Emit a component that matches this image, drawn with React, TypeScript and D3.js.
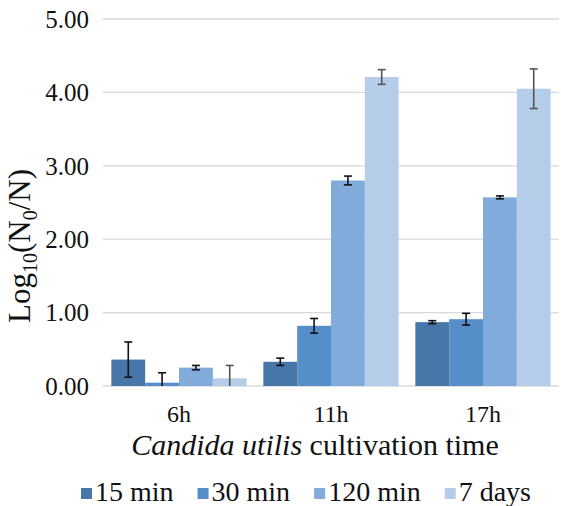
import React, { useEffect, useRef } from "react";
import * as d3 from "d3";

const categories = ["6h", "11h", "17h"];
const seriesNames = ["15 min", "30 min", "120 min", "7 days"];
const seriesColors = ["#4677A8", "#558EC8", "#80ABDB", "#B6CDE9"];
const errColors = ["#111111", "#111111", "#111111", "#555555"];
const values15 = [0.36, 0.33, 0.87];
const values30 = [0.045, 0.82, 0.91];
const values120 = [0.25, 2.8, 2.57];
const values7d = [0.105, 4.21, 4.05];
const errors15 = [0.24, 0.05, 0.02];
const errors30 = [0.135, 0.1, 0.08];
const errors120 = [0.03, 0.06, 0.02];
const errors7d = [0.175, 0.1, 0.27];
const yTicks = [0, 1, 2, 3, 4, 5];

const W = 561;
const H = 506;
const FONT = "Liberation Serif";

export default function App() {
  const ref = useRef<SVGSVGElement | null>(null);

  useEffect(() => {
    const svg = d3.select(ref.current);
    svg.selectAll("*").remove();

    const values = [values15, values30, values120, values7d];
    const errors = [errors15, errors30, errors120, errors7d];

    const left = 103;
    const right = 559;
    const top = 19;
    const bottom = 386;

    const x = d3.scaleBand<string>().domain(categories).range([left, right]).paddingInner(0.11).paddingOuter(0.055);
    const xs = d3.scaleBand<string>().domain(seriesNames).range([0, x.bandwidth()]);
    const y = d3.scaleLinear().domain([0, 5]).range([bottom, top]);

    svg.append("g")
      .selectAll("line")
      .data(yTicks)
      .join("line")
      .attr("x1", left)
      .attr("x2", right)
      .attr("y1", (d) => y(d))
      .attr("y2", (d) => y(d))
      .attr("stroke", "#d9d9d9")
      .attr("stroke-width", 1.3);

    svg.append("g")
      .selectAll("text")
      .data(yTicks)
      .join("text")
      .attr("x", 89)
      .attr("y", (d) => y(d))
      .attr("dy", "0.35em")
      .attr("text-anchor", "end")
      .style("font-family", FONT)
      .style("font-size", "25px")
      .attr("fill", "#111")
      .text((d) => d.toFixed(2));

    const defs = svg.append("defs");
    defs.append("clipPath").attr("id", "plotclip")
      .append("rect").attr("x", 0).attr("y", 0).attr("width", W).attr("height", bottom);

    seriesNames.forEach((s, si) => {
      const g = svg.append("g");
      g.selectAll("rect")
        .data(categories)
        .join("rect")
        .attr("x", (c) => (x(c) as number) + (xs(s) as number))
        .attr("width", xs.bandwidth())
        .attr("y", (c, i) => y(values[si][i]))
        .attr("height", (c, i) => bottom - y(values[si][i]))
        .attr("fill", seriesColors[si]);
    });

    seriesNames.forEach((s, si) => {
      const g = svg.append("g").attr("clip-path", "url(#plotclip)")
        .attr("stroke", errColors[si]).attr("stroke-width", 1.6).attr("fill", "none");
      categories.forEach((c, i) => {
        const cx = (x(c) as number) + (xs(s) as number) + xs.bandwidth() / 2;
        const v = values[si][i];
        const e = errors[si][i];
        const y1 = y(v + e);
        const y0 = y(v - e);
        g.append("line").attr("x1", cx).attr("x2", cx).attr("y1", y1).attr("y2", y0);
        g.append("line").attr("x1", cx - 4).attr("x2", cx + 4).attr("y1", y1).attr("y2", y1);
        g.append("line").attr("x1", cx - 4).attr("x2", cx + 4).attr("y1", y0).attr("y2", y0);
      });
    });

    svg.append("g")
      .selectAll("text")
      .data(categories)
      .join("text")
      .attr("x", (c) => (x(c) as number) + x.bandwidth() / 2)
      .attr("y", 422)
      .attr("text-anchor", "middle")
      .style("font-family", FONT)
      .style("font-size", "24px")
      .attr("fill", "#111")
      .text((d) => d);

    const xt = svg.append("text")
      .attr("x", 315)
      .attr("y", 455)
      .attr("text-anchor", "middle")
      .style("font-family", FONT)
      .style("font-size", "30px")
      .attr("fill", "#111");
    xt.append("tspan").style("font-style", "italic").text("Candida utilis");
    xt.append("tspan").text(" cultivation time");

    const yt = svg.append("text")
      .attr("transform", `translate(30, 246) rotate(-90)`)
      .attr("text-anchor", "middle")
      .style("font-family", FONT)
      .style("font-size", "31px")
      .attr("fill", "#111");
    yt.append("tspan").text("Log");
    yt.append("tspan").style("font-size", "20px").attr("dy", 7).text("10");
    yt.append("tspan").attr("dy", -7).text("(N");
    yt.append("tspan").style("font-size", "20px").attr("dy", 7).text("0");
    yt.append("tspan").attr("dy", -7).text("/N)");

    const lg = svg.append("g");
    let lx = 81;
    seriesNames.forEach((s, si) => {
      lg.append("rect").attr("x", lx).attr("y", 488).attr("width", 11).attr("height", 11).attr("fill", seriesColors[si]);
      const t = lg.append("text")
        .attr("x", lx + 14)
        .attr("y", 501)
        .style("font-family", FONT)
        .style("font-size", "28px")
        .attr("fill", "#111")
        .text(s);
      const w = (t.node() as SVGTextElement).getComputedTextLength();
      lx = lx + 14 + w + 24;
    });
  }, []);

  return (
    <svg
      ref={ref}
      width={W}
      height={H}
      style={{ position: "absolute", left: 0, top: 0, background: "#fff" }}
    />
  );
}
